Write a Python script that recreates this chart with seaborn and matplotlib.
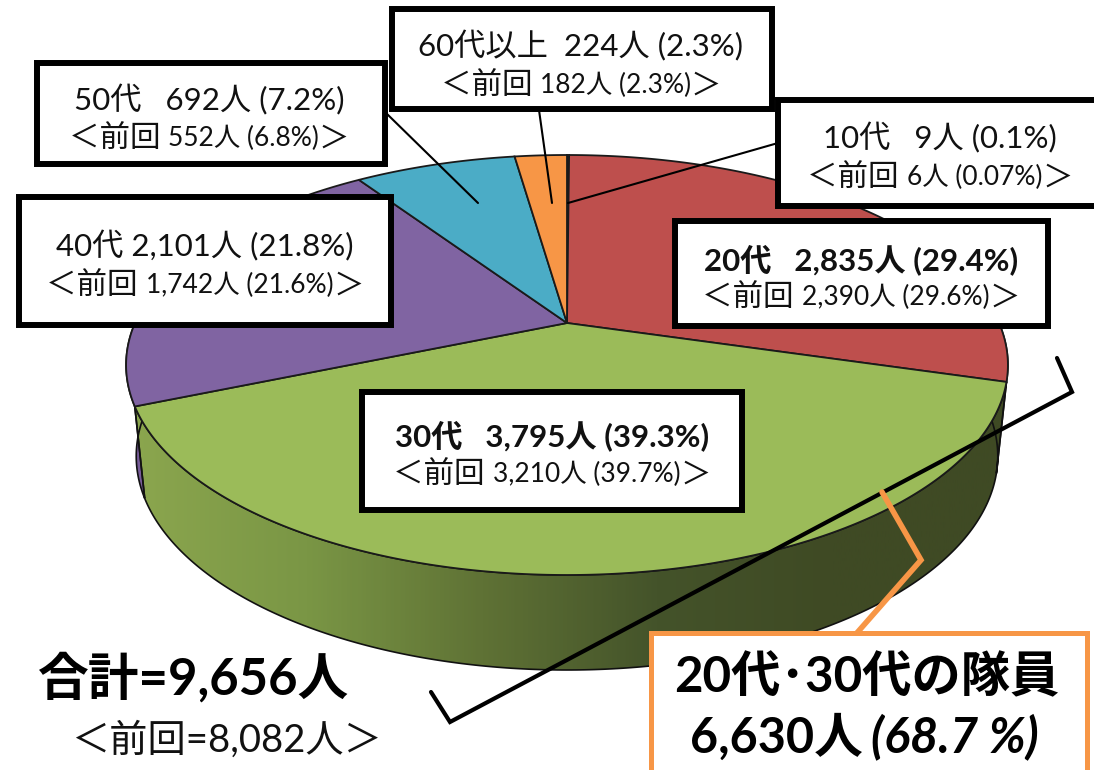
import numpy as np
import matplotlib.pyplot as plt
import seaborn as sns
from matplotlib.colors import LinearSegmentedColormap
from matplotlib.patches import Polygon, Rectangle

# values, clockwise from 12 o'clock
ages = ["10代", "20代", "30代", "40代", "50代", "60代以上"]
counts = [9, 2835, 3795, 2101, 692, 224]
shares = ["0.1", "29.4", "39.3", "21.8", "7.2", "2.3"]
prev_counts = [6, 2390, 3210, 1742, 552, 182]
prev_shares = ["0.07", "29.6", "39.7", "21.6", "6.8", "2.3"]
age_gaps = ["   ", "   ", "   ", " ", "   ", "  "]
total = "9,656"
prev_total = "8,082"
young_total = "6,630"
young_share = "68.7"

top_colors = ["#4F81BD", "#BE4F4D", "#9BBB59", "#8064A2", "#4BACC6", "#F79646"]
JP = ["Lato", "Noto Sans CJK JP"]

# box x0, y0, x1, y1, text centre x, line 1 y, line 2 y
boxes = {
	"10代": (778, 100, 1104, 206, 940, 135, 175),
	"20代": (675, 221, 1048, 326, 861, 257, 295),
	"30代": (362, 392, 742, 510, 552, 433, 472),
	"40代": (19, 197, 391, 325, 205, 243, 283),
	"50代": (37, 63, 385, 164, 209, 97, 136),
	"60代以上": (392, 9, 772, 109, 581, 43, 83),
}


def project(theta, depth=0.0):
	# perspective view of the pie, theta in degrees clockwise from the top
	t = np.radians(theta)
	w = 1 + 0.2 * np.cos(t)
	x = 432 * np.sin(t) / w
	y = 323 - 201.6 * np.cos(t) / w
	if depth:
		x = x * 0.977
		y = y + 72 + 18.4 / w
	return 567 + x, y


def arc(a, b, depth=0.0):
	thetas = np.linspace(a, b, max(int(abs(b - a)) * 2, 2))
	return np.column_stack(project(thetas, depth))


def draw_side(ax, a, b, stops, x0, x1):
	verts = np.vstack([arc(a, b), arc(a, b, 1)[::-1]])
	patch = Polygon(verts, closed=True, fc="none", ec="#111111", lw=1.2, zorder=3)
	ax.add_patch(patch)
	cmap = LinearSegmentedColormap.from_list("side", stops)
	img = ax.imshow(np.linspace(0, 1, 300).reshape(1, -1), cmap=cmap, extent=(x0, x1, 770, 0), aspect="auto", zorder=2)
	img.set_clip_path(patch)


def draw_box(ax, x0, y0, x1, y1, color="black", lw=4.3):
	ax.add_patch(Rectangle((x0, y0), x1 - x0, y1 - y0, fc="white", ec=color, lw=lw, joinstyle="miter", zorder=8))


def draw_runs(ax, cx, y, runs):
	# one centred line made of pieces in different sizes
	renderer = ax.figure.canvas.get_renderer()
	items = [ax.text(0, y, s, ha="left", va="center_baseline", fontsize=size, color="#111111", zorder=9) for s, size in runs]
	widths = [t.get_window_extent(renderer).width for t in items]
	x = cx - sum(widths) / 2
	for t, w in zip(items, widths):
		t.set_x(x)
		x += w


sns.set_theme(style="white")
plt.rcParams["font.family"] = JP

fig = plt.figure(figsize=(10.94, 7.7), dpi=100)
ax = fig.add_axes([0, 0, 1, 1])
ax.set_axis_off()
ax.set_xlim(0, 1094)
ax.set_ylim(770, 0)

angles = np.concatenate([[0], np.cumsum(counts) / np.sum(counts) * 360])

# side wall, back to front
draw_side(ax, 90, angles[2], ["#3d4722", "#3d4722"], 900, 1094)
draw_side(ax, angles[3], 272, ["#6f5590", "#7d619f"], 100, 170)
draw_side(ax, angles[2], angles[3], ["#3f4a24", "#3f4a24", "#44532a", "#5f7235", "#7a9645", "#8ba64e"], 1010, 130)

# top of the pie
for i, color in enumerate(top_colors):
	pts = np.vstack([[project(0, 0)[0], 323], arc(angles[i], angles[i + 1])])
	ax.add_patch(Polygon(pts, closed=True, fc=color, ec="#1a1a1a", lw=1.3, zorder=4))

# leader lines
ax.plot([385, 478], [112, 203], color="black", lw=1.5, zorder=6)
ax.plot([539, 552], [110, 203], color="black", lw=1.5, zorder=6)
ax.plot([778, 568], [143, 203], color="black", lw=1.5, zorder=6)

# brackets
ax.plot([431, 450, 1072, 1057], [692, 722, 392, 358], color="black", lw=3, solid_joinstyle="miter", zorder=6)
ax.plot([882, 921, 856], [492, 560, 634], color="#F79646", lw=4, solid_joinstyle="miter", zorder=7)

for i, age in enumerate(ages):
	x0, y0, x1, y1, cx, y_a, y_b = boxes[age]
	draw_box(ax, x0, y0, x1, y1)
	weight = "bold" if age in ("20代", "30代") else "normal"
	ax.text(cx, y_a, f"{age}{age_gaps[i]}{counts[i]:,}人 ({shares[i]}%)", ha="center", va="center_baseline", fontsize=22.5, fontweight=weight, color="#111111", zorder=9)
	draw_runs(ax, cx, y_b, [("＜前回 ", 22), (f"{prev_counts[i]:,}人 ({prev_shares[i]}%)", 19), ("＞", 22)])

ax.text(38, 678, f"合計={total}人", ha="left", va="center", fontsize=36.5, fontweight="bold", color="black", zorder=9)
ax.text(72, 740, f"＜前回={prev_total}人＞", ha="left", va="center", fontsize=27.5, color="#111111", zorder=9)

draw_box(ax, 651, 633, 1087, 772, color="#F79646", lw=3.6)
ax.text(867, 677, "20代･30代の隊員", ha="center", va="center", fontsize=35.5, fontweight="bold", color="black", zorder=9)
ax.text(863, 737, f"{young_total}人", ha="right", va="center", fontsize=35, fontweight="bold", color="black", zorder=9)
ax.text(871, 737, f"({young_share} %)", ha="left", va="center", fontsize=35, fontweight="bold", style="italic", color="black", zorder=9)

fig.savefig("out.png", dpi=100)
